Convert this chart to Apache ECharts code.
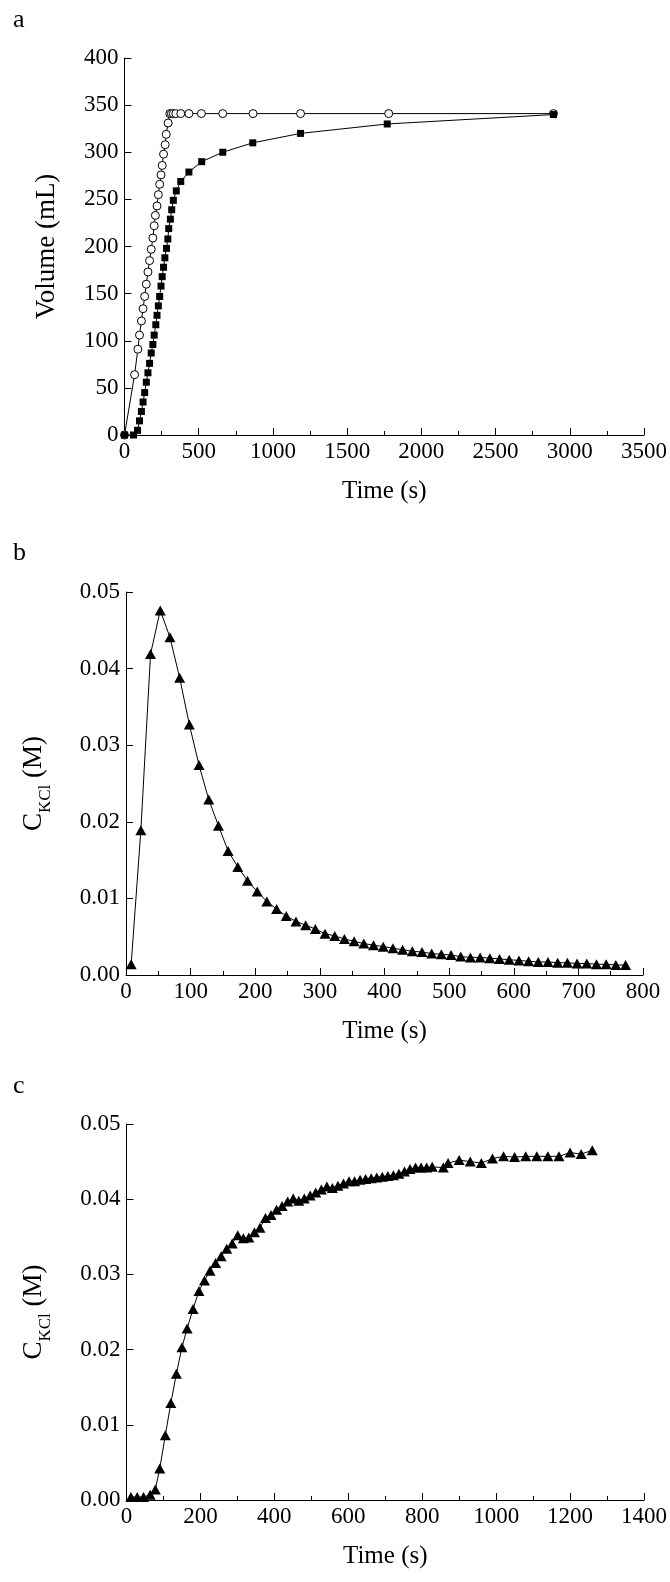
<!DOCTYPE html>
<html><head><meta charset="utf-8">
<script src="https://cdn.jsdelivr.net/npm/echarts@6/dist/echarts.min.js"></script>
<style>html,body{margin:0;padding:0;background:#fff}#c{width:670px;height:1582px}</style>
</head><body><div id="c"></div>
<script>
// Panel a
const aOpenT = [0,68,90,101,114,125,136,147,158,169,180,191,200,208,219,228,237,246,254,263,274,281,294,305,316,329,346,379,434,518,662,866,1186,1780,2890];
const aOpenV = [0,64,91,106,121,134,147,160,173,185,197,209,222,233,243,255,266,276,286,298,308,319,331,341,341,341,341,341,341,341,341,341,341,341,341];
const aFillT = [0,61,88,101,114,125,136,147,158,169,180,191,200,211,219,228,237,246,254,263,272,283,292,298,309,318,329,349,379,434,520,662,864,1186,1770,2890];
const aFillV = [0,0,5,15,25,35,45,56,66,76,87,96,106,117,127,137,147,158,168,178,188,198,208,219,229,239,249,259,269,279,290,300,310,320,330,340];
// Panel b
const bT = [8,23,38,53,68,83,98,113,128,143,158,173,188,203,218,233,248,263,278,293,308,323,338,353,368,383,398,413,428,443,458,473,488,503,518,533,548,563,578,593,608,623,638,653,668,683,698,713,728,743,758,773];
const bC = [0.0014,0.0189,0.0419,0.0476,0.0441,0.0388,0.0327,0.0274,0.0229,0.0195,0.0162,0.0141,0.0123,0.0109,0.0096,0.0086,0.0077,0.0070,0.0065,0.0060,0.0054,0.0051,0.0047,0.0044,0.0041,0.0039,0.0037,0.0035,0.0033,0.0031,0.0030,0.0028,0.0027,0.0026,0.0024,0.0023,0.0023,0.0022,0.0021,0.0020,0.0019,0.0018,0.0017,0.0017,0.0016,0.0016,0.0015,0.0015,0.0014,0.0014,0.0013,0.0013];
// Panel c
const cT = [12,29,46,64,78,90,105,120,135,150,164,180,196,211,226,241,256,271,286,301,316,331,346,361,376,391,406,421,436,451,466,481,497,512,527,542,557,572,587,602,617,632,647,662,677,692,707,722,737,752,767,782,797,812,827,857,870,900,930,960,990,1020,1050,1080,1110,1140,1170,1200,1230,1260];
const cC = [0.0004,0.0004,0.0004,0.0007,0.0014,0.0042,0.0086,0.0129,0.0168,0.0203,0.0228,0.0254,0.0278,0.0292,0.0305,0.0315,0.0324,0.0334,0.0341,0.0352,0.0348,0.0349,0.0356,0.0362,0.0375,0.0379,0.0386,0.0391,0.0397,0.0401,0.0398,0.0401,0.0405,0.0409,0.0413,0.0417,0.0415,0.0418,0.0421,0.0424,0.0424,0.0426,0.0427,0.0428,0.0429,0.0430,0.0431,0.0432,0.0434,0.0437,0.0440,0.0442,0.0442,0.0442,0.0443,0.0442,0.0448,0.0452,0.0450,0.0448,0.0454,0.0457,0.0456,0.0457,0.0457,0.0457,0.0457,0.0462,0.0460,0.0465];

const zip = (x,y) => x.map((v,i)=>[v,y[i]]);
const F = 'Liberation Serif, Times New Roman, serif';
const tri = 'path://M0,10 L5,0 L10,10 Z';
function xAx(idx,max,intv){return {gridIndex:idx,type:'value',min:0,max:max,interval:intv,name:'Time (s)',nameLocation:'middle',nameGap:44,
 nameTextStyle:{fontFamily:F,fontSize:25,color:'#000'},axisLine:{lineStyle:{color:'#000',width:1}},
 axisTick:{inside:true,length:7,lineStyle:{color:'#000'}},minorTick:{show:true,splitNumber:2,length:4,lineStyle:{color:'#000'}},
 splitLine:{show:false},axisLabel:{fontFamily:F,fontSize:23,color:'#000',margin:5,formatter:v=>String(v)}};}
function yAx(idx,max,intv,name,gap,dec){return {gridIndex:idx,type:'value',min:0,max:max,interval:intv,name:name,nameLocation:'middle',nameGap:gap,nameRotate:90,
 nameTextStyle:{fontFamily:F,fontSize:27,color:'#000',rich:{s:{fontFamily:F,fontSize:17,color:'#000',verticalAlign:'bottom',lineHeight:34},n:{fontFamily:F,fontSize:27,color:'#000',verticalAlign:'top',lineHeight:27}}},
 axisLine:{show:true,lineStyle:{color:'#000',width:1}},axisTick:{inside:true,length:7,lineStyle:{color:'#000'}},
 splitLine:{show:false},axisLabel:{fontFamily:F,fontSize:23,color:'#000',margin:6,formatter:v=>dec?v.toFixed(2):String(v)}};}
const ch = echarts.init(document.getElementById('c'),null,{renderer:'canvas'});
ch.setOption({
 animation:false,
 title:[{text:'a',left:8,top:2},{text:'b',left:8,top:535},{text:'c',left:8,top:1068}].map(t=>Object.assign(t,{textStyle:{fontFamily:F,fontSize:26,fontWeight:'normal',color:'#000'}})),
 grid:[{left:124.5,right:24,top:58,height:377},{left:126,right:27,top:592,height:383},{left:126.5,right:24,top:1124,height:376}],
 xAxis:[xAx(0,3500,500),xAx(1,800,100),xAx(2,1400,200)],
 yAxis:[yAx(0,400,50,'Volume (mL)',64,false),yAx(1,0.05,0.01,'{n|C}{s|KCl}{n| (M)}',72,true),yAx(2,0.05,0.01,'{n|C}{s|KCl}{n| (M)}',72,true)],
 series:[
  {type:'line',xAxisIndex:0,yAxisIndex:0,data:zip(aOpenT,aOpenV),symbol:'circle',symbolSize:8,showAllSymbol:true,itemStyle:{color:'#fff',borderColor:'#000',borderWidth:1},lineStyle:{color:'#000',width:1}},
  {type:'line',xAxisIndex:0,yAxisIndex:0,data:zip(aFillT,aFillV),symbol:'rect',symbolSize:7,showAllSymbol:true,itemStyle:{color:'#000'},lineStyle:{color:'#000',width:1}},
  {type:'line',xAxisIndex:1,yAxisIndex:1,data:zip(bT,bC),symbol:tri,symbolSize:[11,10],showAllSymbol:true,itemStyle:{color:'#000'},lineStyle:{color:'#000',width:1}},
  {type:'line',xAxisIndex:2,yAxisIndex:2,data:zip(cT,cC),symbol:tri,symbolSize:[11,10],showAllSymbol:true,itemStyle:{color:'#000'},lineStyle:{color:'#000',width:1}}
 ]
});
</script></body></html>
